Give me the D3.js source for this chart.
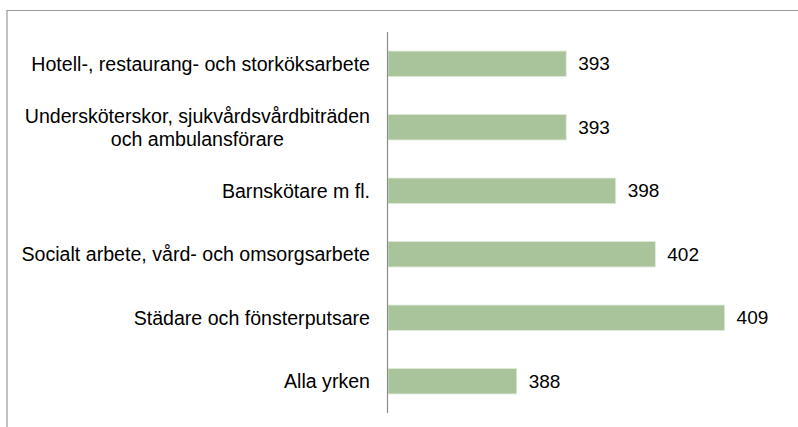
<!DOCTYPE html>
<html>
<head>
<meta charset="utf-8">
<script src="https://cdn.jsdelivr.net/npm/d3@7"></script>
<style>
body{margin:0;background:#fff;}
text{font-family:"Liberation Sans",Arial,sans-serif;}
</style>
</head>
<body>
<div class="canvas"></div>
<script>
// data
const categories = [
  ['Hotell-, restaurang- och storköksarbete'],
  ['Undersköterskor, sjukvårdsvårdbiträden', 'och ambulansförare'],
  ['Barnskötare m fl.'],
  ['Socialt arbete, vård- och omsorgsarbete'],
  ['Städare och fönsterputsare'],
  ['Alla yrken']
];
const values = [393, 393, 398, 402, 409, 388];

const data = categories.map((c, i) => ({name: i, lines: c, value: values[i]}));

const width = 798, height = 427;
const svg = d3.select('.canvas')
  .append('svg')
    .attr('width', width)
    .attr('height', height);

// frame
svg.append('path')
  .attr('d', `M7,${height} V10.5 H${width}`)
  .attr('fill', 'none')
  .attr('stroke', '#9a9a9a')
  .attr('stroke-width', 1.2);

const margin = {top: 32, left: 388, bottom: 14};
const graphHeight = height - margin.top - margin.bottom;

const x = d3.scaleLinear()
  .domain([375, 415])
  .range([margin.left, margin.left + 40 * 9.9]);

const y = d3.scaleBand()
  .domain(data.map(d => d.name))
  .range([margin.top, margin.top + graphHeight])
  .paddingInner(0.6)
  .paddingOuter(0.3);

// bars
svg.selectAll('rect.bar')
  .data(data)
  .enter()
  .append('rect')
    .attr('class', 'bar')
    .attr('x', x(375))
    .attr('y', d => y(d.name))
    .attr('width', d => x(d.value) - x(375))
    .attr('height', y.bandwidth())
    .attr('fill', '#a9c49a')
    .attr('stroke', '#dfe9d8')
    .attr('stroke-width', 0.8);

// axis line
svg.append('line')
  .attr('x1', x(375) - 0.5).attr('x2', x(375) - 0.5)
  .attr('y1', margin.top).attr('y2', margin.top + graphHeight)
  .attr('stroke', '#8c8c8c')
  .attr('stroke-width', 1.2);

// value labels
svg.selectAll('text.val')
  .data(data)
  .enter()
  .append('text')
    .attr('class', 'val')
    .attr('x', d => x(d.value) + 12)
    .attr('y', d => y(d.name) + y.bandwidth() / 2)
    .attr('dy', '0.35em')
    .attr('font-size', 19)
    .attr('fill', '#000')
    .text(d => d.value);

// category labels
const labelRight = 370;
const lineH = 23;
data.forEach(d => {
  const g = svg.append('g');
  const cy = y(d.name) + y.bandwidth() / 2;
  const n = d.lines.length;
  const texts = d.lines.map((l, i) => g.append('text')
    .attr('font-size', 19.6)
    .attr('fill', '#000')
    .attr('dy', '0.35em')
    .attr('y', cy + (i - (n - 1) / 2) * lineH)
    .text(l));
  const maxW = d3.max(texts, t => t.node().getComputedTextLength());
  texts.forEach(t => t.attr('text-anchor', 'middle').attr('x', labelRight - maxW / 2));
});
</script>
</body>
</html>
